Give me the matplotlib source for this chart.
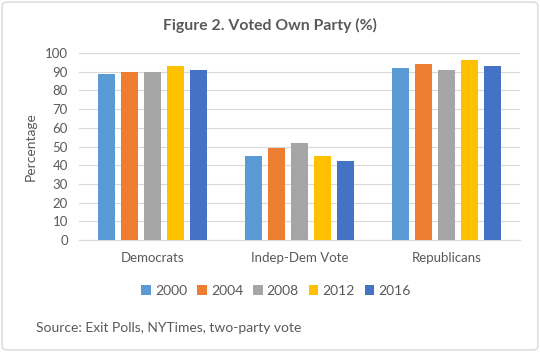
import matplotlib
matplotlib.use("Agg")
import matplotlib.pyplot as plt
from matplotlib.patches import FancyBboxPatch, Patch
import numpy as np

plt.rcParams['font.family'] = ['Lato', 'DejaVu Sans']

categories = ["Democrats", "Indep-Dem Vote", "Republicans"]
years = ["2000", "2004", "2008", "2012", "2016"]
values = {
    "2000": [89, 45, 92],
    "2004": [90, 49, 94],
    "2008": [90, 52, 91],
    "2012": [93, 45, 96],
    "2016": [91, 42, 93],
}
colors = ["#5B9BD5", "#ED7D31", "#A5A5A5", "#FFC000", "#4472C4"]
yticks = list(range(0, 101, 10))

fig = plt.figure(figsize=(5.4, 3.52), dpi=100)
fig.patch.set_facecolor("white")
border = FancyBboxPatch((0.004, 0.006), 0.992, 0.988, boxstyle="round,pad=0,rounding_size=0.01",
                        transform=fig.transFigure, fill=False, edgecolor="#D9D9D9", linewidth=1.0)
fig.add_artist(border)

ax = fig.add_axes([79/540, 1-240/352, (520-79)/540, (240-53)/352])
x = np.arange(len(categories))
step = 0.157
width = 0.118
for i, (yr, c) in enumerate(zip(years, colors)):
    ax.bar(x + (i - 2) * step, values[yr], width=width, color=c, label=yr, zorder=3)

ax.set_xlim(-0.5, 2.5)
ax.set_ylim(0, 100)
ax.set_yticks(yticks)
ax.yaxis.grid(True, color="#D9D9D9", linewidth=0.8, zorder=0)
ax.set_xticks(x)
ax.set_xticklabels(categories)
for s in ["top", "right", "left"]:
    ax.spines[s].set_visible(False)
ax.spines["bottom"].set_color("#D9D9D9")
ax.tick_params(axis="both", length=0, colors="#595959", labelsize=9.5)
ax.tick_params(axis="x", pad=9)
ax.tick_params(axis="y", pad=8)
ax.set_ylabel("Percentage", color="#595959", fontsize=10, labelpad=6)

fig.text(0.5, 1-25/352, "Figure 2. Voted Own Party (%)", ha="center", va="center",
         fontsize=11.3, fontweight="bold", color="#595959")

handles = [Patch(facecolor=c, label=y) for y, c in zip(years, colors)]
fig.legend(handles=handles, loc="center", bbox_to_anchor=(276/540, 1-291/352), ncol=5, frameon=False,
           fontsize=10, handlelength=0.7, handleheight=0.7, handletextpad=0.3, columnspacing=0.7,
           labelcolor="#595959")

fig.text(36/540, 1-328/352, "Source: Exit Polls, NYTimes, two-party vote", ha="left", va="center",
         fontsize=10, color="#595959")

fig.savefig("out.png", dpi=100, facecolor="white")
